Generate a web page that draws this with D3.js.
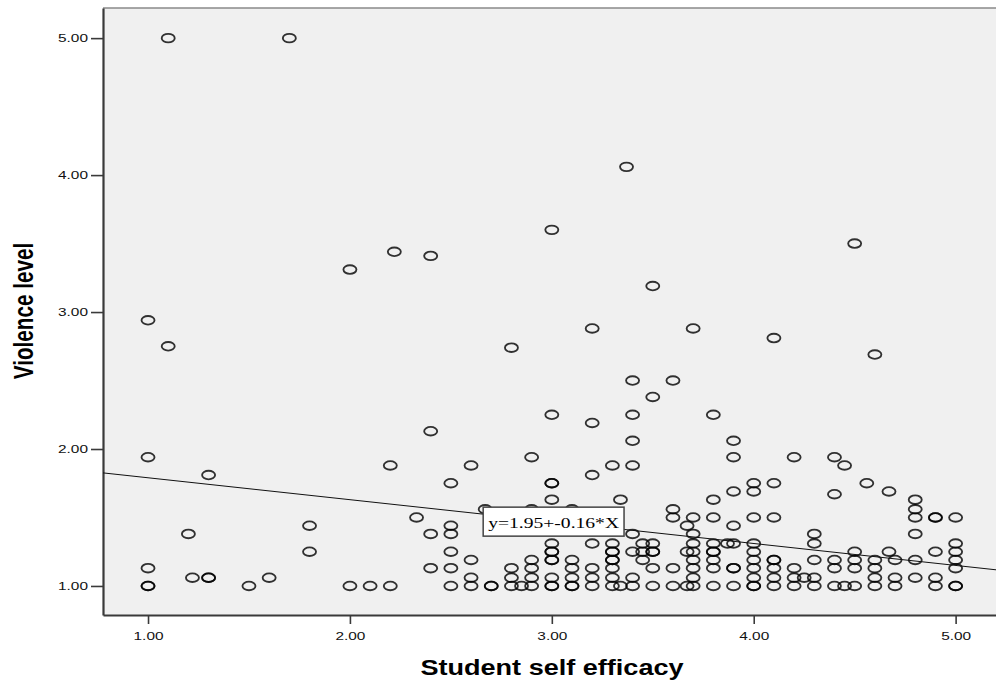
<!DOCTYPE html>
<html>
<head>
<meta charset="utf-8">
<style>
  body { margin: 0; background: #fff; }
  svg { display: block; }
  .axis-title { font-family: "Liberation Sans", Arial, sans-serif; font-weight: bold; fill: #000; }
  .fit-label { font-family: "Liberation Serif", "Times New Roman", serif; font-size: 14px; fill: #000; }
</style>
</head>
<body>
<svg id="chart" width="996" height="680"></svg>
<script src="https://d3js.org/d3.v7.min.js"></script>
<script>
// one entry per respondent, rows grouped by violence level
var selfEfficacy = [
  1.1, 1.7, 3.37, 3.0, 4.5, 2.22, 2.4, 2.0, 3.5, 1.0, 3.2, 3.7, 4.1, 1.1, 2.8, 4.6,
  3.4, 3.6, 3.5, 3.0, 3.4, 3.8, 3.2, 2.4, 3.4, 3.9,
  1.0, 2.9, 3.9, 4.2, 4.4, 4.45, 2.2, 2.6, 3.3, 3.4, 1.3, 3.2,
  2.5, 3.0, 3.0, 4.0, 4.1, 4.56, 3.9, 4.0, 4.67, 4.4,
  3.0, 3.34, 3.8, 4.8, 2.67, 2.9, 3.1, 3.6, 4.8,
  2.33, 3.6, 3.7, 3.8, 4.0, 4.1, 4.8, 4.9, 4.9, 5.0,
  1.8, 2.5, 3.67, 3.9, 1.2, 2.4, 2.5, 3.4, 3.7, 4.3, 4.8,
  3.0, 3.2, 3.3, 3.45, 3.5, 3.7, 3.8, 3.87, 3.9, 4.0, 4.3, 5.0,
  1.8, 2.5, 3.0, 3.0, 3.3, 3.3, 3.4, 3.45, 3.5, 3.5, 3.67, 3.7, 3.8, 3.8, 4.0, 4.5, 4.67, 4.9, 5.0,
  2.6, 2.9, 3.0, 3.0, 3.1, 3.3, 3.3, 3.45, 3.7, 3.8, 4.0, 4.1, 4.1, 4.3, 4.4, 4.5, 4.6, 4.7, 4.8, 5.0,
  1.0, 2.4, 2.5, 2.8, 2.9, 3.1, 3.2, 3.3, 3.5, 3.6, 3.7, 3.8, 3.9, 3.9, 4.0, 4.1, 4.2, 4.4, 4.5, 4.6, 5.0,
  1.22, 1.3, 1.3, 1.6, 2.6, 2.8, 2.9, 3.0, 3.1, 3.2, 3.3, 3.4, 3.7, 4.0, 4.1, 4.2, 4.25, 4.3, 4.6, 4.7, 4.8, 4.9,
  1.0, 1.0, 1.5, 2.0, 2.1, 2.2, 2.5, 2.6, 2.7, 2.7,
  2.8, 2.85, 2.9, 3.0, 3.0, 3.1, 3.1, 3.2, 3.3, 3.34,
  3.4, 3.5, 3.6, 3.67, 3.7, 3.8, 3.9, 4.0, 4.0, 4.1,
  4.2, 4.3, 4.4, 4.45, 4.5, 4.6, 4.7, 4.9, 5.0, 5.0
];
var violenceLevel = [
  5.0, 5.0, 4.06, 3.6, 3.5, 3.44, 3.41, 3.31, 3.19, 2.94, 2.88, 2.88, 2.81, 2.75, 2.74, 2.69,
  2.5, 2.5, 2.38, 2.25, 2.25, 2.25, 2.19, 2.13, 2.06, 2.06,
  1.94, 1.94, 1.94, 1.94, 1.94, 1.88, 1.88, 1.88, 1.88, 1.88, 1.81, 1.81,
  1.75, 1.75, 1.75, 1.75, 1.75, 1.75, 1.69, 1.69, 1.69, 1.67,
  1.63, 1.63, 1.63, 1.63, 1.56, 1.56, 1.56, 1.56, 1.56,
  1.5, 1.5, 1.5, 1.5, 1.5, 1.5, 1.5, 1.5, 1.5, 1.5,
  1.44, 1.44, 1.44, 1.44, 1.38, 1.38, 1.38, 1.38, 1.38, 1.38, 1.38,
  1.31, 1.31, 1.31, 1.31, 1.31, 1.31, 1.31, 1.31, 1.31, 1.31, 1.31, 1.31,
  1.25, 1.25, 1.25, 1.25, 1.25, 1.25, 1.25, 1.25, 1.25, 1.25, 1.25, 1.25, 1.25, 1.25, 1.25, 1.25, 1.25, 1.25, 1.25,
  1.19, 1.19, 1.19, 1.19, 1.19, 1.19, 1.19, 1.19, 1.19, 1.19, 1.19, 1.19, 1.19, 1.19, 1.19, 1.19, 1.19, 1.19, 1.19, 1.19,
  1.13, 1.13, 1.13, 1.13, 1.13, 1.13, 1.13, 1.13, 1.13, 1.13, 1.13, 1.13, 1.13, 1.13, 1.13, 1.13, 1.13, 1.13, 1.13, 1.13, 1.13,
  1.06, 1.06, 1.06, 1.06, 1.06, 1.06, 1.06, 1.06, 1.06, 1.06, 1.06, 1.06, 1.06, 1.06, 1.06, 1.06, 1.06, 1.06, 1.06, 1.06, 1.06, 1.06,
  1.0, 1.0, 1.0, 1.0, 1.0, 1.0, 1.0, 1.0, 1.0, 1.0,
  1.0, 1.0, 1.0, 1.0, 1.0, 1.0, 1.0, 1.0, 1.0, 1.0,
  1.0, 1.0, 1.0, 1.0, 1.0, 1.0, 1.0, 1.0, 1.0, 1.0,
  1.0, 1.0, 1.0, 1.0, 1.0, 1.0, 1.0, 1.0, 1.0, 1.0
];

var xTicks = [1, 2, 3, 4, 5];
var yTicks = [1, 2, 3, 4, 5];
var fitIntercept = 1.95,
  fitSlope = -0.16,
  fitLabel = 'y=1.95+-0.16*X',
  fitLabelAt = 2.66;
var xTitle = 'Student self efficacy',
  yTitle = 'Violence level';

// the source picture is stretched sideways, so text and markers are too
var sx = 1.4;
var plot = { left: 103, top: 8, right: 996, bottom: 615 };

var svg = d3.select('#chart');

var x = d3.scaleLinear()
  .domain([0.777, 5.2])
  .range([plot.left, plot.right]);

var y = d3.scaleLinear()
  .domain([0.788, 5.22])
  .range([plot.bottom, plot.top]);

svg.append('defs').append('clipPath')
  .attr('id', 'plot-clip')
  .append('rect')
  .attr('x', plot.left)
  .attr('y', plot.top)
  .attr('width', plot.right - plot.left + 10)
  .attr('height', plot.bottom - plot.top);

svg.append('rect')
  .attr('x', plot.left)
  .attr('y', plot.top)
  .attr('width', plot.right - plot.left + 10)
  .attr('height', plot.bottom - plot.top)
  .attr('fill', '#f0f0f0');

svg.append('line')
  .attr('x1', plot.left).attr('x2', plot.right + 10)
  .attr('y1', plot.top).attr('y2', plot.top)
  .attr('stroke', '#8a8a8a')
  .attr('stroke-width', 1.5);

var fmt = d3.format('.2f');

var yAxis = svg.append('g')
  .attr('transform', 'translate(' + plot.left + ',0)')
  .call(d3.axisLeft(y).tickValues(yTicks).tickFormat(fmt).tickSize(12).tickSizeOuter(0));

var xAxis = svg.append('g')
  .attr('transform', 'translate(0,' + plot.bottom + ')')
  .call(d3.axisBottom(x).tickValues(xTicks).tickFormat(fmt).tickSize(9).tickPadding(8).tickSizeOuter(0));

[xAxis, yAxis].forEach(function (a) {
  a.attr('font-family', '"Liberation Sans", Arial, sans-serif').attr('font-size', 11);
  a.select('.domain').attr('stroke', '#3a3a3a').attr('stroke-width', 2.2);
  a.selectAll('.tick line').attr('stroke', '#3a3a3a').attr('stroke-width', 1.6);
  a.selectAll('.tick text').attr('fill', '#111');
});
yAxis.selectAll('.tick text')
  .attr('x', -15 / sx)
  .attr('transform', 'scale(' + sx + ',1)');
xAxis.selectAll('.tick text')
  .attr('transform', 'scale(' + sx + ',1)');

var inner = svg.append('g').attr('clip-path', 'url(#plot-clip)');

var points = selfEfficacy.map(function (v, i) { return [v, violenceLevel[i]]; });

inner.selectAll('ellipse')
  .data(points)
  .join('ellipse')
  .attr('cx', function (d) { return x(d[0]); })
  .attr('cy', function (d) { return y(d[1]); })
  .attr('rx', 6.5)
  .attr('ry', 4.3)
  .attr('fill', 'none')
  .attr('stroke', '#000')
  .attr('stroke-opacity', 0.8)
  .attr('stroke-width', 1.85);

function fit(v) { return fitIntercept + fitSlope * v; }

inner.append('path')
  .datum(x.domain())
  .attr('d', d3.line()
    .x(function (d) { return x(d); })
    .y(function (d) { return y(fit(d)); }))
  .attr('fill', 'none')
  .attr('stroke', '#111')
  .attr('stroke-width', 1);

// equation box sitting on the fit line
var bx = x(fitLabelAt),
  by = y(fit(fitLabelAt)) - 7;
var box = svg.append('g').attr('transform', 'translate(' + bx + ',' + by + ')');
var boxRect = box.append('rect')
  .attr('height', 29)
  .attr('fill', '#fff')
  .attr('stroke', '#444')
  .attr('stroke-width', 1.5);
var eq = box.append('text')
  .attr('class', 'fit-label')
  .attr('transform', 'translate(5,21) scale(' + sx + ',1)')
  .text(fitLabel);
boxRect.attr('width', eq.node().getComputedTextLength() * sx + 10);

svg.append('text')
  .attr('class', 'axis-title')
  .attr('text-anchor', 'middle')
  .attr('font-size', 22)
  .attr('transform', 'translate(552,675) scale(1.23,1)')
  .text(xTitle);

svg.append('text')
  .attr('class', 'axis-title')
  .attr('text-anchor', 'middle')
  .attr('font-size', 20.7)
  .attr('transform', 'translate(33,311) scale(1.35,1) rotate(-90)')
  .text(yTitle);
</script>
</body>
</html>
